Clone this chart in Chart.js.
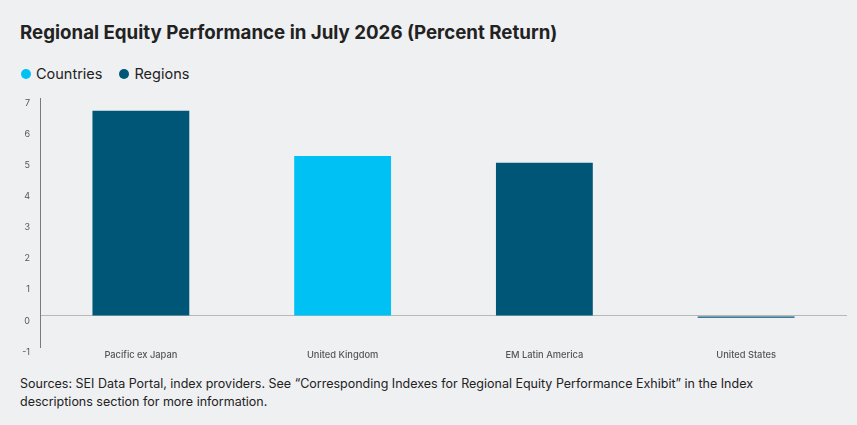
<!DOCTYPE html>
<html>
<head>
<meta charset="utf-8">
<script src="https://cdn.jsdelivr.net/npm/chart.js@4.4.1/dist/chart.umd.min.js"></script>
<style>
  html, body { margin: 0; padding: 0; background: #eff0f2; }
  #wrap { width: 857px; height: 425px; position: relative; overflow: hidden; font-family: Inter, sans-serif; color: #222; }
  #titulo { position: absolute; left: 20px; top: 22px; font-size: 18.7px; line-height: 22px; font-weight: 700; white-space: nowrap; }
  #legenda { position: absolute; left: 21px; top: 65px; font-size: 14.5px; line-height: 18px; display: flex; }
  #legenda span.item { display: flex; align-items: center; margin-right: 17px; }
  #legenda span.bola { width: 10px; height: 10px; border-radius: 50%; margin-right: 5px; display: inline-block; }
  #caixa { position: absolute; left: 0; top: 90px; width: 857px; height: 275px; }
  #fontes { position: absolute; left: 20px; top: 375px; font-size: 12.5px; line-height: 18px; width: 820px; }
</style>
</head>
<body>
<div id="wrap">
  <div id="titulo">Regional Equity Performance in July 2026 (Percent Return)</div>
  <div id="legenda"></div>
  <div id="caixa"><canvas id="grafico"></canvas></div>
  <div id="fontes">Sources: SEI Data Portal, index providers. See &ldquo;Corresponding Indexes for Regional Equity Performance Exhibit&rdquo; in the Index<br>descriptions section for more information.</div>
</div>
<script>
const categorias = ['Pacific ex Japan', 'United Kingdom', 'EM Latin America', 'United States'];
const retornos = [6.59, 5.14, 4.92, -0.06];
const grupos = ['Regions', 'Countries', 'Regions', 'Regions'];
const legendaNomes = ['Countries', 'Regions'];
const yTicks = [-1, 0, 1, 2, 3, 4, 5, 6, 7];

const cores = { Countries: '#00c1f3', Regions: '#005677' };

// legenda em HTML
const legenda = document.getElementById('legenda');
legendaNomes.forEach(n => {
    const item = document.createElement('span');
    item.className = 'item';
    item.innerHTML = '<span class="bola" style="background:' + cores[n] + '"></span>' + n;
    legenda.appendChild(item);
});

document.addEventListener('DOMContentLoaded', function () {
    const ctx = document.getElementById('grafico').getContext('2d');
    new Chart(ctx, {
        type: 'bar',
        data: {
            labels: categorias,
            datasets: [{
                label: 'Percent Return',
                data: retornos,
                backgroundColor: grupos.map(g => cores[g]),
                borderWidth: 0,
                categoryPercentage: 1,
                barPercentage: 0.48
            }]
        },
        options: {
            responsive: true,
            maintainAspectRatio: false,
            animation: false,
            layout: { padding: { left: 0, right: 10, top: 8, bottom: 0 } },
            plugins: {
                tooltip: { enabled: false },
                legend: { display: false }
            },
            scales: {
                x: {
                    grid: { display: false, drawTicks: false },
                    border: { display: false },
                    afterFit: axis => { axis.height = 18; axis.paddingLeft = 0; axis.paddingRight = 0; },
                    ticks: {
                        color: '#555555',
                        padding: 3,
                        font: { family: 'Inter', size: 9.3, weight: '500' }
                    }
                },
                y: {
                    min: -1,
                    max: 7,
                    afterBuildTicks: axis => { axis.ticks = yTicks.map(v => ({ value: v })); },
                    afterFit: axis => { axis.width = 40; axis.paddingTop = 0; axis.paddingBottom = 0; },
                    border: { display: true, color: '#7a7a7a', width: 1 },
                    grid: {
                        drawTicks: false,
                        color: c => c.tick && c.tick.value === 0 ? '#b8b8b8' : 'rgba(0,0,0,0)',
                        lineWidth: 1
                    },
                    ticks: {
                        color: '#555555',
                        padding: 10,
                        labelOffset: 5,
                        font: { family: 'Inter', size: 9 }
                    }
                }
            }
        }
    });
});
</script>
</body>
</html>
